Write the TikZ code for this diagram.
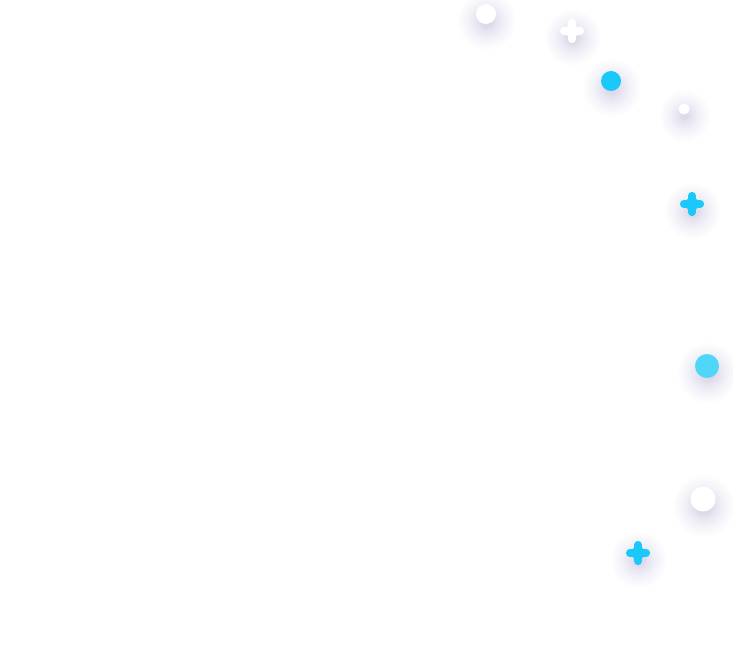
\documentclass[tikz,border=0pt]{standalone}
\definecolor{cyanA}{RGB}{26,200,250}
\definecolor{cyanB}{RGB}{80,214,248}
\definecolor{shadecol}{RGB}{110,100,210}
\newcommand\glowat[3]{%
  \foreach \k in {0,...,22}{%
    \fill[shadecol,opacity=0.006] ({#1+1},{#2+7}) circle ({(0.7*#3+0.045*\k*\k)*1pt});
  }%
}
\newcommand\dotat[4]{%
  \glowat{#1}{#2}{#3}%
  \fill[#4] (#1,#2) circle ({#3*1pt});
}
\newcommand\plusat[3]{%
  \glowat{#1}{#2}{9}%
  \draw[#3, line width=7.5pt, line cap=round] ({#1-8.3},#2) -- ({#1+8.3},#2) (#1,{#2-8.3}) -- (#1,{#2+8.3});
  \fill[#3] (#1,#2) circle (6.6pt);
}
\begin{document}
\begin{tikzpicture}[x=1pt,y=-1pt]
  \fill[white] (0,0) rectangle (733,663);
  \useasboundingbox (0,0) rectangle (733,663);
  \dotat{486}{14}{10}{white}
  \plusat{572}{31}{white}
  \dotat{611}{81}{10}{cyanA}
  \dotat{684}{109}{5.5}{white}
  \plusat{692}{204}{cyanA}
  \dotat{707}{366}{12}{cyanB}
  \dotat{703}{499}{12.5}{white}
  \plusat{638}{553}{cyanA}
\end{tikzpicture}
\end{document}
